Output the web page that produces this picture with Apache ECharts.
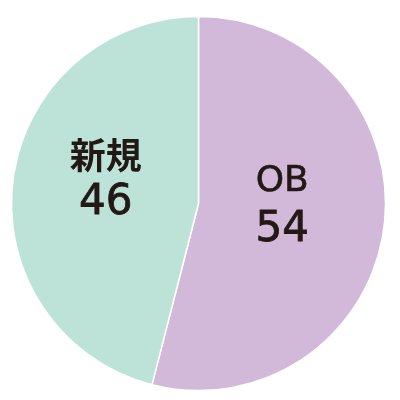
<!DOCTYPE html>
<html><head><meta charset="utf-8">
<script src="https://cdn.jsdelivr.net/npm/echarts@6/dist/echarts.min.js"></script>
<style>html,body{margin:0;padding:0;background:#fff}#c{width:400px;height:400px}</style>
</head><body><div id="c"></div>
<script>
const categories = ['OB', '新規'];
const values = [54, 46];
const colors = ['#d2b9da', '#bde3d9'];
const offsets = [[-12, -10], [3, -12]];

const chart = echarts.init(document.getElementById('c'), null, {renderer: 'canvas'});
chart.setOption({
  animation: false,
  series: [{
    type: 'pie',
    center: [198.5, 203.5],
    radius: 187,
    startAngle: 90,
    clockwise: true,
    silent: true,
    itemStyle: {borderColor: '#ffffff', borderWidth: 1.5},
    label: {
      position: 'inside',
      formatter: function (p) {
        const tag = /^[A-Za-z0-9]+$/.test(p.name) ? 'n' : 'k';
        return '{' + tag + '|' + p.name + '}\n{v|' + p.value + '}';
      },
      color: '#231815',
      rich: {
        n: {fontFamily: 'DejaVu Sans', fontSize: 36, fontWeight: 'normal', color: '#231815', lineHeight: 48, textBorderColor: '#231815', textBorderWidth: 0.6},
        k: {fontFamily: 'Noto Sans CJK JP', fontSize: 36, fontWeight: 'bold', color: '#231815', lineHeight: 48},
        v: {fontFamily: 'DejaVu Sans', fontSize: 42, fontWeight: 'normal', color: '#231815', lineHeight: 48, textBorderColor: '#231815', textBorderWidth: 0.8}
      }
    },
    labelLine: {show: false},
    data: categories.map((c, i) => ({
      name: c, value: values[i],
      itemStyle: {color: colors[i]},
      label: {offset: offsets[i]}
    }))
  }]
});
</script></body></html>
